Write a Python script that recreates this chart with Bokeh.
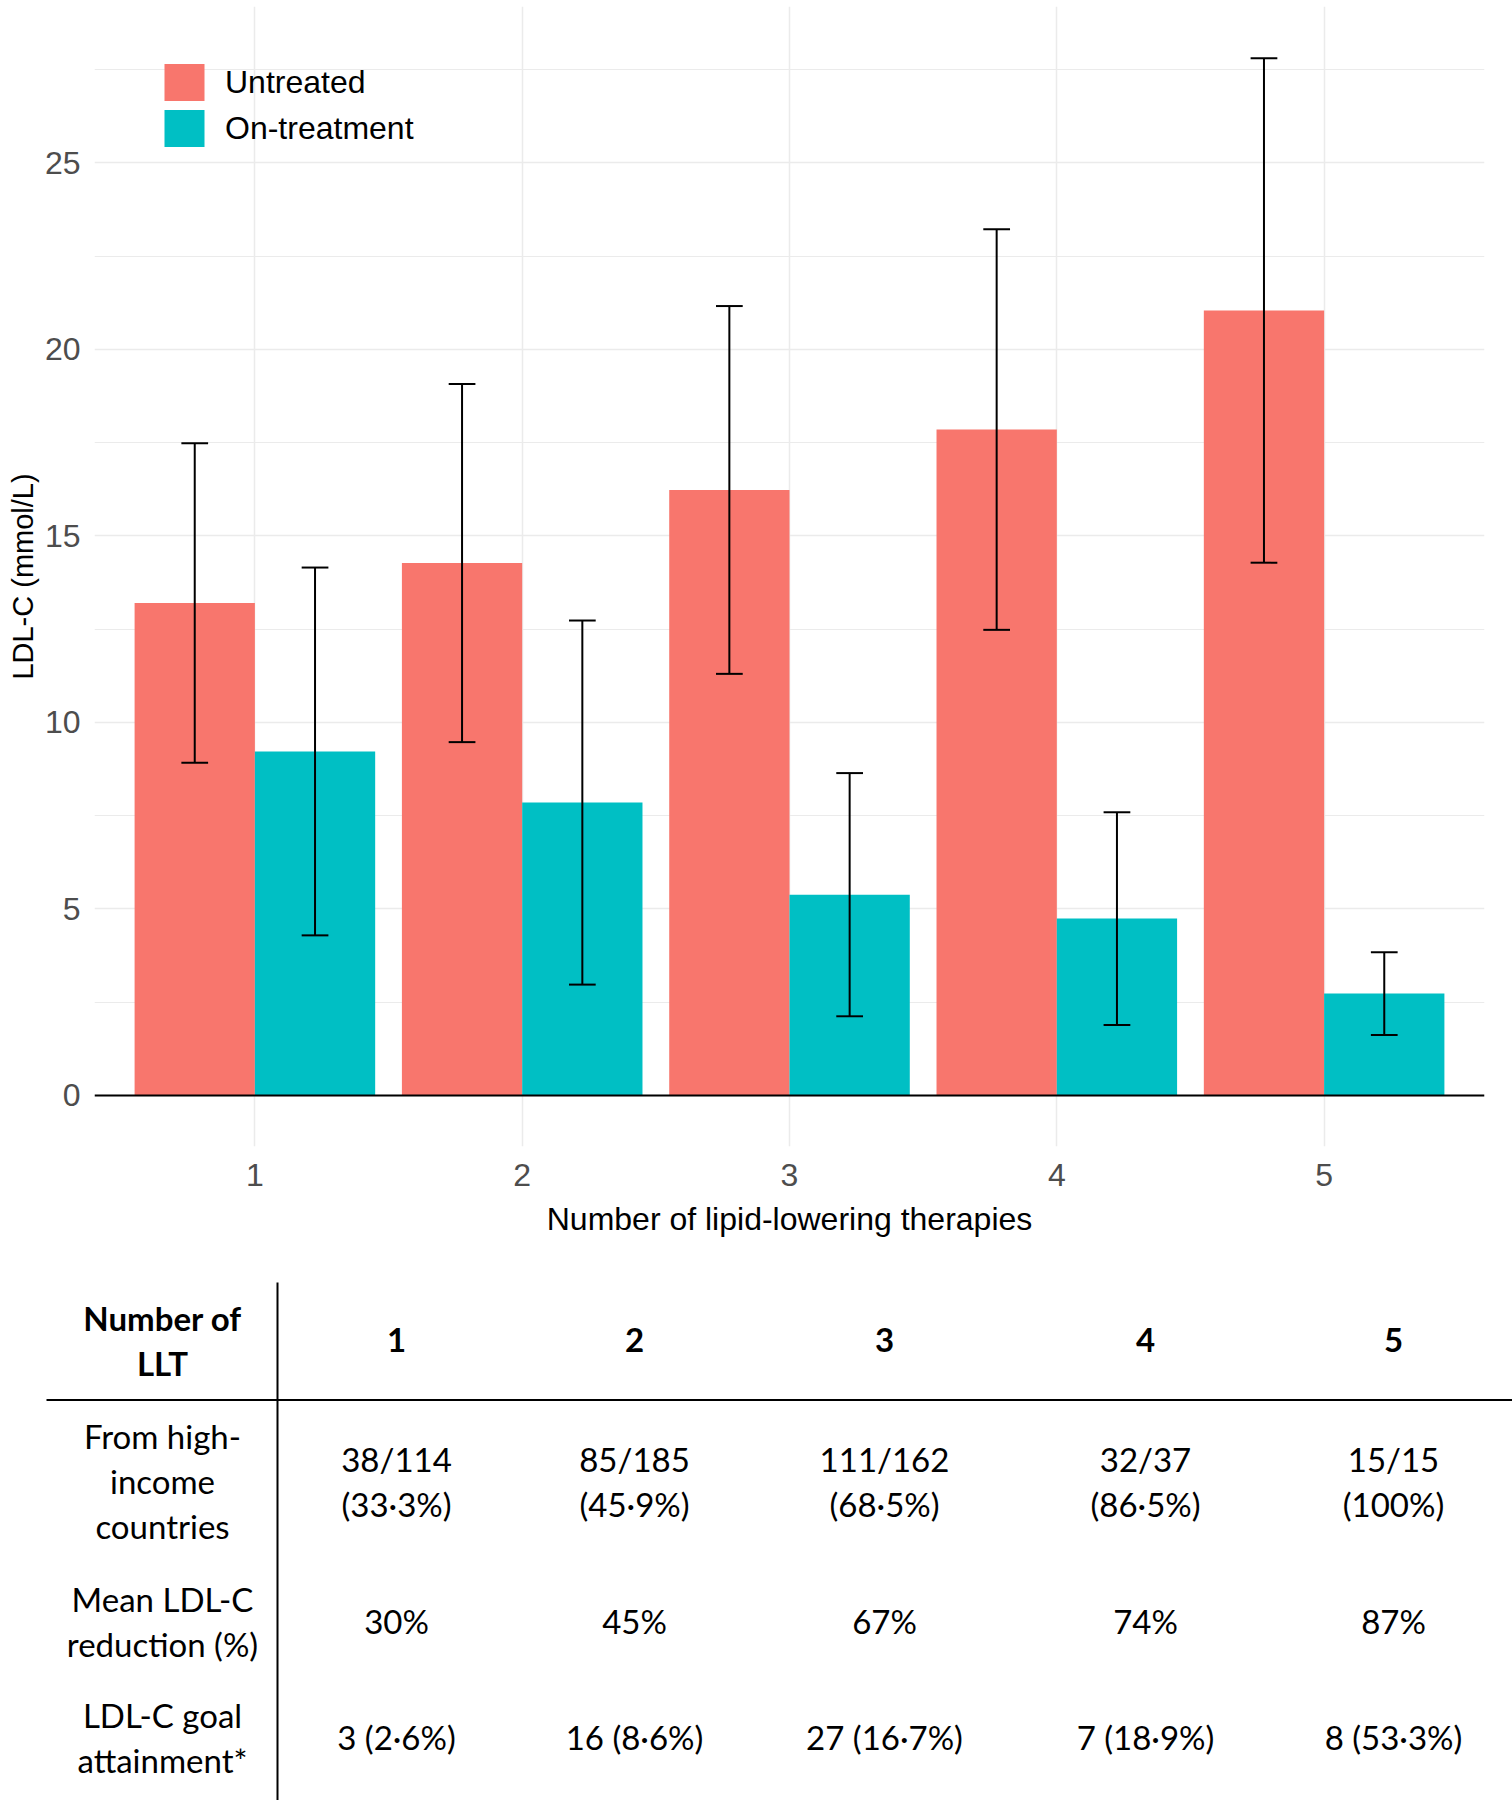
import numpy as np
from bokeh.plotting import figure
from bokeh.models import (ColumnDataSource, Range1d, FixedTicker, Span, Legend,
                          LegendItem, Plot)
from bokeh.layouts import column
from bokeh.embed import file_html
from bokeh.resources import INLINE
from bokeh.core.properties import value

# ---------------- data ----------------
n_llt = [1, 2, 3, 4, 5]
untreated_mean = [13.20, 14.27, 16.23, 17.85, 21.04]
untreated_sd = [4.28, 4.80, 4.93, 5.37, 6.76]
ontreat_mean = [9.22, 7.85, 5.38, 4.74, 2.73]
ontreat_sd = [4.93, 4.88, 3.26, 2.85, 1.11]
series_names = ["Untreated", "On-treatment"]
y_ticks = [0, 5, 10, 15, 20, 25]
y_minor_ticks = [2.5, 7.5, 12.5, 17.5, 22.5, 27.5]

table_header = ["Number of", "LLT"]
table_cols = ["1", "2", "3", "4", "5"]
row_labels = [["From high-", "income", "countries"],
              ["Mean LDL-C", "reduction (%)"],
              ["LDL-C goal", "attainment*"]]
high_income_n = ["38/114", "85/185", "111/162", "32/37", "15/15"]
high_income_pct = ["(33·3%)", "(45·9%)", "(68·5%)", "(86·5%)", "(100%)"]
mean_reduction = ["30%", "45%", "67%", "74%", "87%"]
goal_attainment = ["3 (2·6%)", "16 (8·6%)", "27 (16·7%)", "7 (18·9%)", "8 (53·3%)"]

# ---------------- style ----------------
RED = "#F8766D"
TEAL = "#00BFC4"
GRID = "#EBEBEB"
FONT = "Liberation Sans"
TFONT = "Lato"

extra = {}
if "frame_align" in Plot.properties():
    extra["frame_align"] = False

# ---------------- chart ----------------
p = figure(width=1512, height=1270, x_range=Range1d(0.4, 5.6),
           y_range=Range1d(-1.37, 29.19), output_backend="svg",
           toolbar_location=None, min_border_left=94, min_border_right=28,
           min_border_top=6, min_border_bottom=124, **extra)
p.outline_line_color = None
p.background_fill_color = "white"

x = np.array(n_llt, dtype=float)
dodge = 0.225
bar_w = 0.45
cap = 0.05

xu = x - dodge
xt = x + dodge
um = np.array(untreated_mean); us = np.array(untreated_sd)
tm = np.array(ontreat_mean); ts = np.array(ontreat_sd)

src_u = ColumnDataSource(dict(x=xu, top=um, lo=um - us, hi=um + us,
                              cl=xu - cap, cr=xu + cap))
src_t = ColumnDataSource(dict(x=xt, top=tm, lo=tm - ts, hi=tm + ts,
                              cl=xt - cap, cr=xt + cap))

r_u = p.vbar(x="x", top="top", bottom=0, width=bar_w, source=src_u,
             fill_color=RED, line_color=None)
r_t = p.vbar(x="x", top="top", bottom=0, width=bar_w, source=src_t,
             fill_color=TEAL, line_color=None)

for s in (src_u, src_t):
    p.segment(x0="x", x1="x", y0="lo", y1="hi", source=s,
              line_color="black", line_width=2)
    p.segment(x0="cl", x1="cr", y0="hi", y1="hi", source=s,
              line_color="black", line_width=2)
    p.segment(x0="cl", x1="cr", y0="lo", y1="lo", source=s,
              line_color="black", line_width=2)

p.add_layout(Span(location=0, dimension="width", line_color="black",
                  line_width=2))

yt = FixedTicker(ticks=y_ticks, minor_ticks=y_minor_ticks)
p.yaxis.ticker = yt
p.ygrid.ticker = yt
p.xaxis.ticker = FixedTicker(ticks=n_llt)
p.xgrid.ticker = FixedTicker(ticks=n_llt)
p.xaxis.major_label_overrides = {v: str(v) for v in n_llt}
p.grid.grid_line_color = GRID
p.grid.grid_line_width = 1.5
p.ygrid.minor_grid_line_color = GRID
p.ygrid.minor_grid_line_width = 1.2

for ax in (p.xaxis, p.yaxis):
    ax.axis_line_color = None
    ax.major_tick_line_color = None
    ax.minor_tick_line_color = None
    ax.major_label_text_font = FONT
    ax.major_label_text_font_size = "32px"
    ax.major_label_text_color = "#4D4D4D"
    ax.axis_label_text_font = FONT
    ax.axis_label_text_font_style = "normal"
    ax.axis_label_text_color = "black"

p.yaxis.axis_label = "LDL-C (mmol/L)"
p.yaxis.axis_label_text_font_size = "29px"
p.yaxis.major_label_standoff = 8
p.yaxis.axis_label_standoff = 3
p.xaxis.axis_label = "Number of lipid-lowering therapies"
p.xaxis.axis_label_text_font_size = "32px"
p.xaxis.major_label_standoff = 11
p.xaxis.axis_label_standoff = 12

legend = Legend(items=[LegendItem(label=series_names[0], renderers=[r_u]),
                       LegendItem(label=series_names[1], renderers=[r_t])],
                location=(65, 995), orientation="vertical",
                glyph_width=50, glyph_height=46, label_height=46,
                spacing=0, padding=0, margin=0, label_standoff=16,
                border_line_color=None, background_fill_alpha=0,
                label_text_font=FONT, label_text_font_size="32px",
                label_text_color="black")
p.add_layout(legend)

# ---------------- table ----------------
t = figure(frame_width=1512, frame_height=530, x_range=Range1d(0, 1512),
           y_range=Range1d(1800, 1270), output_backend="svg",
           toolbar_location=None, min_border=0,
           x_axis_location=None, y_axis_location=None, **extra)
t.grid.visible = False
t.outline_line_color = None

label_x = 162
col_x = [396, 634, 884, 1145, 1393]
line_gap = 45
text_shift = -1.5
header_center = 1341
row_centers = [1482, 1622, 1738]

t.segment(x0=[277], x1=[277], y0=[1282], y1=[1800], line_color="black",
          line_width=2)
t.segment(x0=[46], x1=[1512], y0=[1399.5], y1=[1399.5], line_color="black",
          line_width=2)


def baselines(center, n):
    return [center + text_shift + (i - (n - 1) / 2) * line_gap for i in range(n)]


# header
hx, hy, htxt = [], [], []
for yb, s in zip(baselines(header_center, len(table_header)), table_header):
    hx.append(label_x); hy.append(yb); htxt.append(s)
for cx, s in zip(col_x, table_cols):
    hx.append(cx); hy.append(baselines(header_center, 1)[0]); htxt.append(s)
t.text(x=hx, y=hy, text=htxt, text_align="center", text_baseline="alphabetic",
       text_font=value(TFONT), text_font_style="bold", text_font_size="33px",
       text_color="black")

# body
bx, by, btxt = [], [], []
row_values = [[high_income_n, high_income_pct], [mean_reduction],
              [goal_attainment]]
for center, labels, vals in zip(row_centers, row_labels, row_values):
    for yb, s in zip(baselines(center, len(labels)), labels):
        bx.append(label_x); by.append(yb); btxt.append(s)
    for yb, line in zip(baselines(center, len(vals)), vals):
        for cx, s in zip(col_x, line):
            bx.append(cx); by.append(yb); btxt.append(s)
t.text(x=bx, y=by, text=btxt, text_align="center", text_baseline="alphabetic",
       text_font=value(TFONT), text_font_size="33px", text_color="black")

layout = column(p, t, spacing=0)
open("out.html", "w").write(file_html(layout, INLINE))
